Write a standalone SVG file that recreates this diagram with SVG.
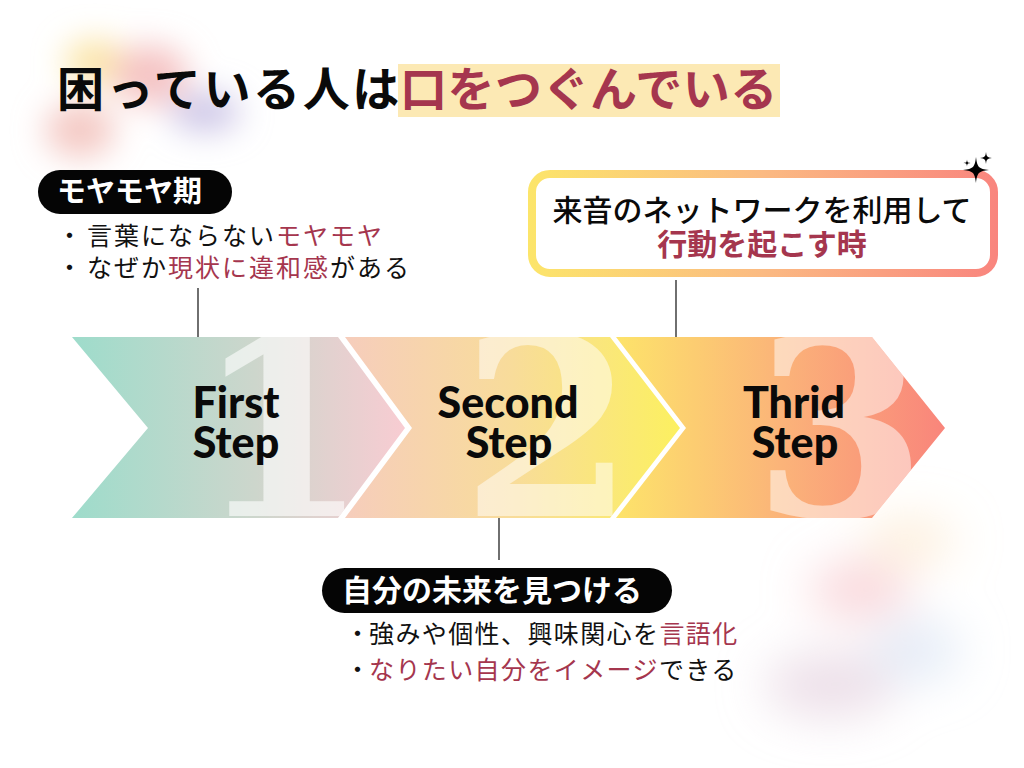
<svg xmlns="http://www.w3.org/2000/svg" width="1024" height="768" viewBox="0 0 1024 768">
<defs>
<style>
.jp{font-family:"Noto Sans CJK JP","Noto Sans",sans-serif;}
.title{font-size:47px;font-weight:700;}
.pilltxt{fill:#fff;font-weight:700;}
.bul{font-size:25px;font-weight:400;fill:#111;}
.red{fill:#a5364e;}
.step{font-family:Lato,"Noto Sans",sans-serif;font-weight:900;font-size:43px;fill:#0a0a0a;text-anchor:middle;}
.num{font-family:"DejaVu Serif","Liberation Serif",serif;font-weight:700;font-size:250px;fill:#fff;text-anchor:middle;}
.conn{stroke:#222;stroke-width:1.3;fill:none;}
</style>
<filter id="blur" x="-50%" y="-50%" width="200%" height="200%"><feGaussianBlur stdDeviation="16"/></filter>
<filter id="blur2" x="-50%" y="-50%" width="200%" height="200%"><feGaussianBlur stdDeviation="24"/></filter>
<linearGradient id="g1" x1="72" y1="0" x2="405" y2="0" gradientUnits="userSpaceOnUse">
<stop offset="0" stop-color="#9edccb"/><stop offset="0.55" stop-color="#cdd6cc"/><stop offset="1" stop-color="#f8ccd2"/>
</linearGradient>
<linearGradient id="g2" x1="345" y1="0" x2="680" y2="0" gradientUnits="userSpaceOnUse">
<stop offset="0" stop-color="#f6cdbc"/><stop offset="0.5" stop-color="#f8dc9a"/><stop offset="1" stop-color="#fcf060"/>
</linearGradient>
<linearGradient id="g3" x1="614" y1="0" x2="945" y2="0" gradientUnits="userSpaceOnUse">
<stop offset="0" stop-color="#fde46a"/><stop offset="0.5" stop-color="#fbb479"/><stop offset="1" stop-color="#f9857b"/>
</linearGradient>
<linearGradient id="gbox" x1="528" y1="0" x2="998" y2="0" gradientUnits="userSpaceOnUse">
<stop offset="0" stop-color="#fce56a"/><stop offset="0.5" stop-color="#fbba82"/><stop offset="1" stop-color="#f9857e"/>
</linearGradient>
<clipPath id="c1"><polygon points="72,337 338,337 405,428 338,518 72,518 148,428"/></clipPath>
<clipPath id="c2"><polygon points="345,337 610,337 680,428 610,518 345,518 412,428"/></clipPath>
<clipPath id="c3"><polygon points="616,337 872,337 945,428 872,518 616,518 686,428"/></clipPath>
<path id="spark" d="M0,-1 C0.1,-0.2 0.2,-0.1 1,0 C0.2,0.1 0.1,0.2 0,1 C-0.1,0.2 -0.2,0.1 -1,0 C-0.2,-0.1 -0.1,-0.2 0,-1Z"/>
</defs>
<rect width="1024" height="768" fill="#fff"/>

<g id="bg-blobs">
<g filter="url(#blur)">
<ellipse cx="95" cy="62" rx="30" ry="22" fill="#fbe19a" opacity="0.9"/>
<ellipse cx="150" cy="75" rx="38" ry="30" fill="#f4bcbc" opacity="0.9"/>
<ellipse cx="205" cy="112" rx="35" ry="20" fill="#c8c0e4" opacity="0.9"/>
<ellipse cx="80" cy="130" rx="35" ry="28" fill="#f2c0ba" opacity="0.85"/>
</g>
<g filter="url(#blur2)">
<ellipse cx="910" cy="540" rx="45" ry="22" fill="#fbe3c0" opacity="0.6"/>
<ellipse cx="860" cy="590" rx="50" ry="28" fill="#f6c4cb" opacity="0.7"/>
<ellipse cx="915" cy="650" rx="45" ry="32" fill="#dae4f3" opacity="0.7"/>
<ellipse cx="830" cy="685" rx="65" ry="32" fill="#e4d0de" opacity="0.7"/>
</g>
</g>

<g id="title" class="jp title">
<rect x="398" y="64" width="382" height="53" fill="#fce9b4"/>
<text x="57" y="106" fill="#0a0a0a" letter-spacing="2.6">困っている人は</text>
<text x="400" y="106" class="red" fill="#a5344b" letter-spacing="0.5">口をつぐんでいる</text>
</g>

<g id="connectors">
<line class="conn" x1="198" y1="288" x2="198" y2="347"/>
<line class="conn" x1="676" y1="280" x2="676" y2="345"/>
<line class="conn" x1="499" y1="508" x2="499" y2="560"/>
</g>

<g id="step1">
<polygon points="72,337 338,337 405,428 338,518 72,518 148,428" fill="url(#g1)"/>
<text class="num" x="282" y="516" clip-path="url(#c1)" opacity="0.6">1</text>
<text class="step" x="236" y="418">First</text>
<text class="step" x="236" y="458">Step</text>
</g>
<g id="step2">
<polygon points="345,337 610,337 680,428 610,518 345,518 412,428" fill="url(#g2)"/>
<text class="num" x="548" y="516" clip-path="url(#c2)" opacity="0.5">2</text>
<text class="step" x="508" y="418">Second</text>
<text class="step" x="509" y="458">Step</text>
</g>
<g id="step3">
<polygon points="616,337 872,337 945,428 872,518 616,518 686,428" fill="url(#g3)"/>
<text class="num" x="840" y="516" clip-path="url(#c3)" opacity="0.5">3</text>
<text class="step" x="794" y="418">Thrid</text>
<text class="step" x="795" y="458">Step</text>
</g>

<g id="moyamoya" class="jp">
<rect x="38" y="170" width="194" height="44" rx="22" fill="#050505"/>
<text x="57" y="202" class="pilltxt" font-size="29">モヤモヤ期</text>
<text x="57" y="245" class="bul">・</text>
<text x="87" y="245" class="bul" letter-spacing="2">言葉にならない<tspan class="red">モヤモヤ</tspan></text>
<text x="57" y="277" class="bul">・</text>
<text x="87" y="277" class="bul" letter-spacing="2">なぜか<tspan class="red">現状に違和感</tspan>がある</text>
</g>

<g id="network-box" class="jp">
<rect x="532" y="174" width="462" height="99" rx="18" fill="#fff" stroke="url(#gbox)" stroke-width="8"/>
<text x="762" y="221" text-anchor="middle" font-size="30" font-weight="500" fill="#0a0a0a">来音のネットワークを利用して</text>
<text x="762" y="255" text-anchor="middle" font-size="30" font-weight="700" class="red">行動を起こす時</text>
<use href="#spark" transform="translate(976,170) scale(13)" fill="#000"/>
<use href="#spark" transform="translate(986,158) scale(6)" fill="#000"/>
<use href="#spark" transform="translate(967,163) scale(3.5)" fill="#000"/>
</g>

<g id="future" class="jp">
<rect x="322" y="568" width="350" height="45" rx="22.5" fill="#050505"/>
<text x="342" y="601" class="pilltxt" font-size="30">自分の未来を見つける</text>
<text x="345" y="643" class="bul" font-size="22">・</text>
<text x="369" y="643" class="bul" letter-spacing="1.4">強みや個性、興味関心を<tspan class="red">言語化</tspan></text>
<text x="345" y="679" class="bul" font-size="22">・</text>
<text x="369" y="679" class="bul" letter-spacing="1.4"><tspan class="red">なりたい自分をイメージ</tspan>できる</text>
</g>
</svg>
